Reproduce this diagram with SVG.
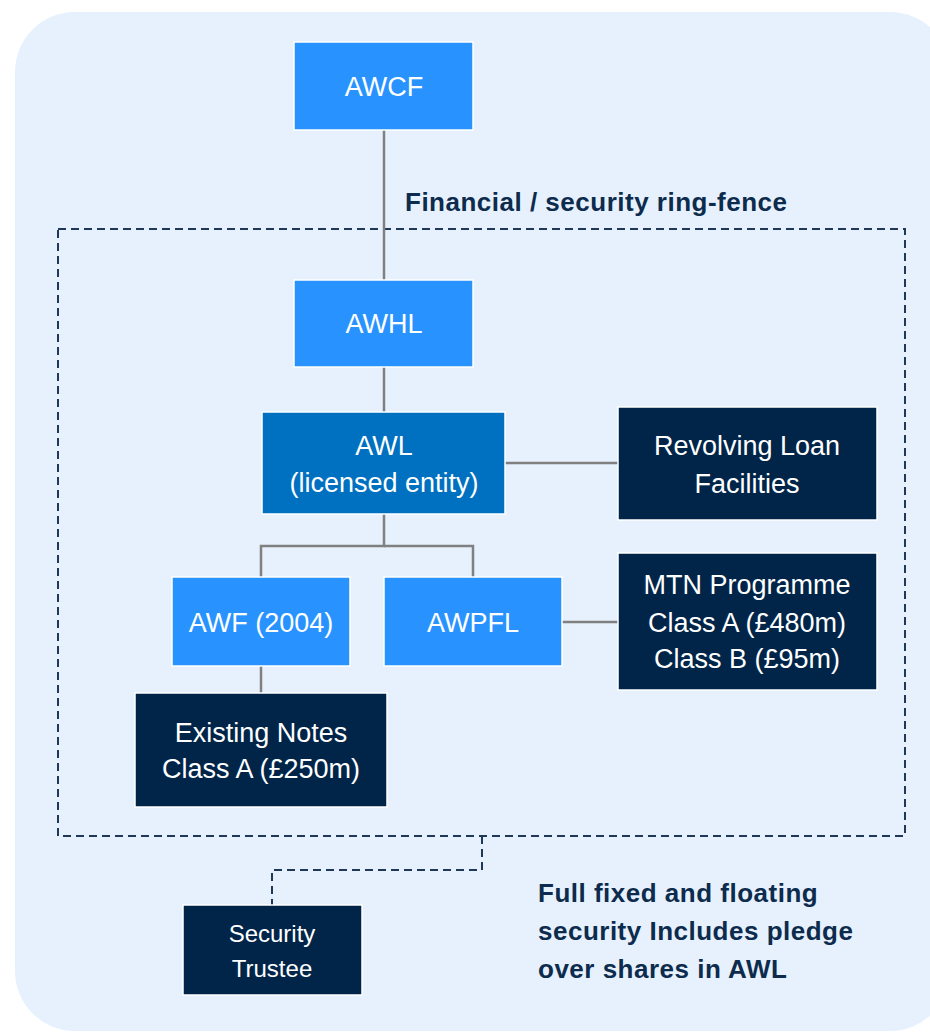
<svg xmlns="http://www.w3.org/2000/svg" width="930" height="1033" viewBox="0 0 930 1033">
<style>
.bg{fill:#E6F1FD}
.light{fill:#2893FF;stroke:#ffffff;stroke-width:1.5}
.mid{fill:#0070C0;stroke:#ffffff;stroke-width:1.5}
.navy{fill:#002549;stroke:#ffffff;stroke-width:1.5}
.t{font-family:"Liberation Sans",Arial,sans-serif;font-size:27px;fill:#ffffff;text-anchor:middle}
.ts{font-family:"Liberation Sans",Arial,sans-serif;font-size:24px;fill:#ffffff;text-anchor:middle}
.b{font-family:"Liberation Sans",Arial,sans-serif;font-size:26px;font-weight:bold;fill:#0D2B4C;letter-spacing:0.5px}
.conn{fill:none;stroke:#808080;stroke-width:2.5}
.dash{fill:none;stroke:#1F3857;stroke-width:2;stroke-dasharray:8 5}
</style>
<rect class="bg" x="15" y="12" width="935" height="1019" rx="60" ry="60"/>
<g id="ring-fence">
<rect class="dash" x="58" y="229" width="847" height="607"/>
<text class="b" x="405" y="211">Financial / security ring-fence</text>
</g>
<g id="connectors">
<line class="conn" x1="384" y1="130" x2="384" y2="280"/>
<line class="conn" x1="384" y1="367" x2="384" y2="413"/>
<line class="conn" x1="505" y1="463" x2="618" y2="463"/>
<polyline class="conn" points="384,514 384,546 261,546 261,577"/>
<polyline class="conn" points="384,546 473,546 473,577"/>
<line class="conn" x1="562" y1="622" x2="618" y2="622"/>
<line class="conn" x1="261" y1="666" x2="261" y2="693"/>
<polyline class="dash" points="482,836 482,870 272,870 272,905"/>
</g>
<g id="awcf">
<rect class="light" x="294" y="42" width="179" height="88"/>
<text class="t" x="384" y="96">AWCF</text>
</g>
<g id="awhl">
<rect class="light" x="294" y="280" width="179" height="87"/>
<text class="t" x="384" y="333">AWHL</text>
</g>
<g id="awl">
<rect class="mid" x="262" y="412" width="243" height="102"/>
<text class="t" x="384" y="455">AWL</text>
<text class="t" x="384" y="492">(licensed entity)</text>
</g>
<g id="revolving">
<rect class="navy" x="618" y="407" width="259" height="113"/>
<text class="t" x="747" y="455">Revolving Loan</text>
<text class="t" x="747" y="493">Facilities</text>
</g>
<g id="awf">
<rect class="light" x="172" y="577" width="178" height="89"/>
<text class="t" x="261" y="632">AWF (2004)</text>
</g>
<g id="awpfl">
<rect class="light" x="384" y="577" width="178" height="89"/>
<text class="t" x="473" y="632">AWPFL</text>
</g>
<g id="mtn">
<rect class="navy" x="618" y="553" width="259" height="137"/>
<text class="t" x="747" y="594">MTN Programme</text>
<text class="t" x="747" y="632">Class A (£480m)</text>
<text class="t" x="747" y="668">Class B (£95m)</text>
</g>
<g id="existing">
<rect class="navy" x="135" y="693" width="252" height="114"/>
<text class="t" x="261" y="742">Existing Notes</text>
<text class="t" x="261" y="778">Class A (£250m)</text>
</g>
<g id="trustee">
<rect class="navy" x="183" y="905" width="179" height="90"/>
<text class="ts" x="272" y="942">Security</text>
<text class="ts" x="272" y="977">Trustee</text>
</g>
<g id="note">
<text class="b" x="538" y="902">Full fixed and floating</text>
<text class="b" x="538" y="940">security Includes pledge</text>
<text class="b" x="538" y="978">over shares in AWL</text>
</g>
</svg>
